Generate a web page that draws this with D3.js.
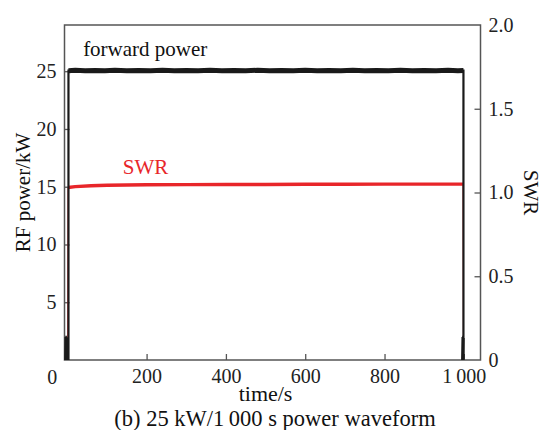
<!DOCTYPE html>
<html>
<head>
<meta charset="utf-8">
<script src="https://cdn.jsdelivr.net/npm/d3@7"></script>
<style>
  body { margin: 0; background: #fff; }
  svg text { font-family: "Liberation Serif", "DejaVu Serif", serif; }
</style>
</head>
<body>
<svg id="chart" width="542" height="430"></svg>
<script>
// tick values
const timeTicks = [200, 400, 600, 800, 1000];
const powerTicks = [5, 10, 15, 20, 25];
const swrTicks = [0, 0.5, 1.0, 1.5, 2.0];

// forward power (kW): short low burst before switch-on, plateau, burst after switch-off
const burstStartT = [-6, -5, -4, -3, -2, -1, 0, 1, 2];
const burstStartP = [0, 2.0, 0, 2.1, 0, 2.0, 0, 1.9, 0];
const fwdT = [3, 3, 20, 45, 70, 95, 120, 150, 180, 210, 240, 270, 300, 330, 360, 390, 420, 450, 480, 510, 540, 570, 600, 630, 660, 690, 720, 750, 780, 810, 840, 870, 900, 930, 960, 985, 999, 999];
const fwdP = [0, 25.05, 25.08, 25.04, 25.07, 25.05, 25.08, 25.04, 25.07, 25.05, 25.08, 25.05, 25.07, 25.04, 25.08, 25.05, 25.07, 25.04, 25.08, 25.05, 25.07, 25.05, 25.08, 25.04, 25.07, 25.05, 25.08, 25.04, 25.07, 25.05, 25.08, 25.04, 25.07, 25.05, 25.08, 25.05, 25.06, 0];
const burstEndT = [995, 996, 997, 998, 999, 1000];
const burstEndP = [0, 2.0, 0, 2.1, 0, 1.9];

// SWR
const swrT = [1, 2, 20, 60, 100, 150, 200, 300, 400, 500, 600, 700, 800, 900, 998, 999];
const swrV = [0, 1.03, 1.035, 1.04, 1.043, 1.045, 1.046, 1.047, 1.048, 1.048, 1.049, 1.049, 1.05, 1.05, 1.05, 0];

const margin = { top: 25, right: 61.5, bottom: 70, left: 64.5 };
const W = 542, H = 430;
const width = W - margin.left - margin.right;
const height = H - margin.top - margin.bottom;

const svg = d3.select("#chart");
const g = svg.append("g").attr("transform", `translate(${margin.left},${margin.top})`);

const x = d3.scaleLinear().domain([-7, 1042]).range([0, width]);
const yL = d3.scaleLinear().domain([0, 29]).range([height, 0]);
const yR = d3.scaleLinear().domain([0, 2]).range([height, 0]);

const axisColor = "#555";
const fontSize = "20px";

// frame
g.append("rect")
  .attr("width", width).attr("height", height)
  .attr("fill", "none").attr("stroke", axisColor).attr("stroke-width", 1.5);

// axes (ticks inward)
const xAxis = g.append("g").attr("transform", `translate(0,${height})`)
  .call(d3.axisBottom(x).tickValues(timeTicks).tickSize(-6).tickPadding(9)
    .tickFormat(d => d >= 1000 ? d3.format(",")(d).replace(",", "\u2009") : d));
const yAxisL = g.append("g")
  .call(d3.axisLeft(yL).tickValues(powerTicks).tickSize(-5).tickPadding(8));
const yAxisR = g.append("g").attr("transform", `translate(${width},0)`)
  .call(d3.axisRight(yR).tickValues(swrTicks).tickSize(-6).tickPadding(8)
    .tickFormat(d => d === 0 ? "0" : d3.format(".1f")(d)));

[xAxis, yAxisL, yAxisR].forEach(a => {
  a.select(".domain").remove();
  a.selectAll("line").attr("stroke", axisColor).attr("stroke-width", 1.3);
  a.selectAll("text").style("font-size", fontSize).attr("fill", "#222")
    .style("font-family", "Liberation Serif, serif");
});
yAxisR.selectAll(".tick").filter(d => d === 0 || d === 2).select("line").remove();

// origin label
g.append("text")
  .attr("x", x(0) - 15).attr("y", height + 24)
  .attr("text-anchor", "middle").style("font-size", fontSize).attr("fill", "#222")
  .text("0");

const lineL = d3.line().x(d => x(d[0])).y(d => yL(d[1]));
const lineR = d3.line().x(d => x(d[0])).y(d => yR(d[1]));

// SWR series: thick plateau, thin rise/fall
const swr = d3.zip(swrT, swrV);
g.append("path").datum(swr.slice(1, -1))
  .attr("fill", "none").attr("stroke", "#e8262a").attr("stroke-width", 3.4)
  .attr("stroke-linejoin", "round")
  .attr("d", lineR);
g.append("path").datum(swr)
  .attr("fill", "none").attr("stroke", "#e8262a").attr("stroke-width", 1)
  .attr("d", lineR);

// forward power bursts
[d3.zip(burstStartT, burstStartP), d3.zip(burstEndT, burstEndP)].forEach(b => {
  g.append("path").datum(b)
    .attr("fill", "none").attr("stroke", "#1a1a1a").attr("stroke-width", 1.6)
    .attr("d", lineL);
});

// forward power plateau (thick band, verticals drawn thinner)
const fwd = d3.zip(fwdT, fwdP);
g.append("path").datum(fwd.slice(1, -1))
  .attr("fill", "none").attr("stroke", "#1a1a1a").attr("stroke-width", 5)
  .attr("d", lineL);
g.append("path").datum(fwd)
  .attr("fill", "none").attr("stroke", "#1a1a1a").attr("stroke-width", 2.2)
  .attr("d", lineL);

// series labels
g.append("text")
  .attr("x", x(40)).attr("y", yL(25) - 15)
  .style("font-size", "21px").attr("fill", "#111")
  .text("forward power");
g.append("text")
  .attr("x", x(140)).attr("y", yR(1.05) - 10)
  .style("font-size", "21px").attr("fill", "#e8262a")
  .text("SWR");

// axis titles
svg.append("text")
  .attr("transform", `translate(30,${margin.top + height / 2}) rotate(-90)`)
  .attr("text-anchor", "middle").style("font-size", "21px").attr("fill", "#111")
  .text("RF power/kW");
svg.append("text")
  .attr("transform", `translate(524,${margin.top + height / 2}) rotate(90)`)
  .attr("text-anchor", "middle").style("font-size", "21px").attr("fill", "#111")
  .text("SWR");
svg.append("text")
  .attr("x", margin.left + x(500)).attr("y", 401)
  .attr("text-anchor", "middle").style("font-size", "22px").attr("fill", "#111")
  .text("time/s");
svg.append("text")
  .attr("x", 275).attr("y", 426)
  .attr("text-anchor", "middle").style("font-size", "22.5px").attr("fill", "#111")
  .text("(b) 25 kW/1\u2009000 s power waveform");
</script>
</body>
</html>
